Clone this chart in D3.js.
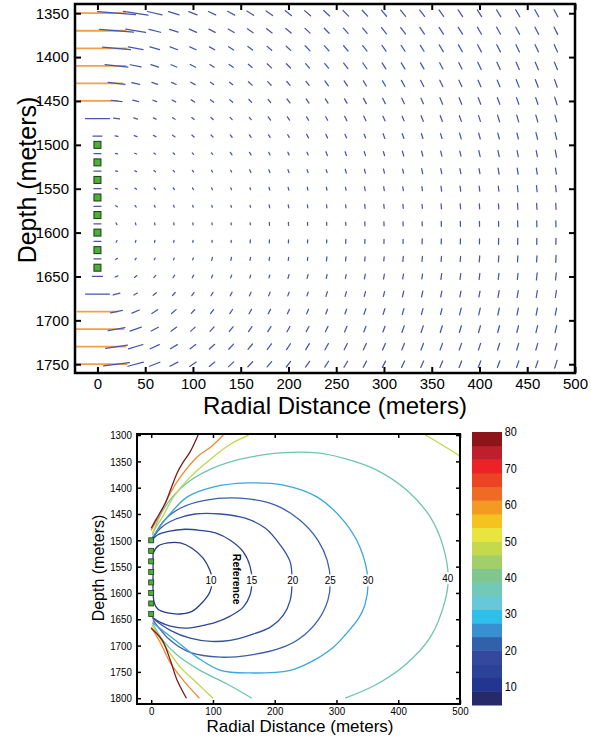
<!DOCTYPE html>
<html><head><meta charset="utf-8">
<script src="https://d3js.org/d3.v7.min.js"></script>
<style>
body{margin:0;background:#fff;}
svg{display:block;font-family:"Liberation Sans",Arial,Helvetica,sans-serif;}
</style>
</head><body>
<svg id="chart" width="591" height="738"></svg>
<script>
// ================= DATA =================
// Top panel: vector field grid
const radialCols = [0,20,40,60,80,100,120,140,160,180,200,220,240,260,280,300,320,340,360,380,400,420,440,460,480];
const depthRows = [1350,1370,1390,1410,1430,1450,1470,1490,1510,1530,1550,1570,1590,1610,1630,1650,1670,1690,1710,1730,1750];
// segment magnitudes, one row per depth, one value per radial column
const magnitudes = [
 [56,38,25,15,11,9,8,8,8,8,8,8,8,8,8,8,8,8,8,8,8,8,8,8,8],
 [56,34,20,12,9,8,7,7,7,7,7,7,7,7,7,8,8,8,8,8,8,8,8,8,8],
 [58,28,15,10,8,7,6,6,6,6,6,7,7,7,7,7,7,7,8,8,8,8,8,8,8],
 [56,23,11,8,6,6,5,5,5,6,6,6,6,7,7,7,7,7,7,7,8,8,8,8,8],
 [50,17,8,6,5,5,4,4,5,5,5,5,6,6,6,6,7,7,7,7,7,7,8,8,8],
 [40,11,6,4,4,4,4,4,4,4,5,5,5,5,6,6,6,6,7,7,7,7,7,7,8],
 [24,6,4,3,3,3,3,3,3,4,4,4,4,5,5,5,5,6,6,6,6,7,7,7,7],
 [9,3,3,3,3,3,3,3,3,3,3,4,4,4,4,5,5,5,5,6,6,6,6,7,7],
 [7,2,2,2,2,2,2,3,3,3,3,3,4,4,4,4,5,5,5,5,6,6,6,6,7],
 [7,2,2,2,2,2,2,2,3,3,3,3,3,4,4,4,4,5,5,5,5,6,6,6,6],
 [7,2,2,2,2,2,2,2,2,3,3,3,3,3,4,4,4,4,5,5,5,5,6,6,6],
 [7,2,2,2,2,2,2,2,2,3,3,3,3,3,4,4,4,4,5,5,5,5,6,6,6],
 [7,2,2,2,2,2,2,2,2,3,3,3,3,3,4,4,4,4,5,5,5,5,6,6,6],
 [7,2,2,2,2,2,2,2,3,3,3,3,3,4,4,4,4,5,5,5,5,6,6,6,6],
 [7,2,2,2,2,2,3,3,3,3,3,3,4,4,4,4,5,5,5,5,6,6,6,6,7],
 [10,3,3,3,3,3,3,3,3,3,4,4,4,4,5,5,5,5,6,6,6,6,6,7,7],
 [24,7,4,4,4,4,4,4,4,4,4,4,5,5,5,5,6,6,6,6,6,7,7,7,7],
 [40,12,8,7,6,5,5,5,5,5,5,5,5,5,6,6,6,6,6,7,7,7,7,7,7],
 [52,17,12,8,7,6,6,6,6,6,6,6,6,6,6,6,7,7,7,7,7,7,7,7,7],
 [56,22,15,10,8,7,7,7,7,7,7,7,7,7,7,7,7,7,7,7,7,7,7,7,7],
 [58,26,16,11,9,8,7,7,7,7,7,7,7,7,7,7,7,7,7,7,7,7,7,7,8]
];
const fieldCenterDepth = 1600;   // depth about which segments turn
const fieldAnisotropy = 0.9;
const largeMagnitude = 30;       // wellbore segments above this are orange
const sourceDepths = [1500,1520,1540,1560,1580,1600,1620,1640];
const topXTicks = [0,50,100,150,200,250,300,350,400,450,500];
const topYTicks = [1350,1400,1450,1500,1550,1600,1650,1700,1750];

// Bottom panel: contour lines [radial distance m, depth m]
const c10 = [[3,1524],[11,1511],[27,1505],[47,1505],[66,1515],[84,1534],[95,1557],[99,1576],[95,1598],[82,1619],[66,1635],[47,1640],[27,1638],[11,1631],[5,1619],[3,1595],[3,1557],[3,1524]];
const c15 = [[0,1502],[10,1490],[28,1483],[55,1479],[79,1481],[104,1486],[128,1500],[149,1522],[160,1549],[163,1576],[160,1604],[149,1627],[128,1644],[104,1656],[79,1663],[55,1667],[31,1663],[15,1656],[2,1646]];
const c20 = [[0,1500],[15,1477],[39,1460],[71,1450],[112,1450],[152,1458],[185,1477],[209,1509],[225,1541],[228,1576],[225,1614],[214,1642],[193,1665],[160,1680],[128,1690],[96,1692],[63,1686],[31,1671],[2,1648]];
const c25 = [[2,1500],[19,1465],[47,1439],[87,1424],[144,1420],[201,1433],[241,1462],[270,1500],[285,1538],[290,1576],[286,1614],[270,1652],[241,1686],[209,1705],[160,1718],[112,1722],[63,1713],[31,1690],[3,1652]];
const c30 = [[2,1494],[26,1456],[58,1418],[100,1399],[155,1391],[214,1395],[269,1418],[311,1462],[338,1513],[351,1576],[346,1623],[336,1648],[314,1680],[295,1703],[257,1732],[225,1747],[160,1752],[112,1747],[74,1722],[39,1690],[2,1656]];
const c40a = [[2,1490],[15,1452],[34,1418],[60,1389],[92,1367],[128,1351],[160,1342],[209,1334],[269,1334],[311,1344],[366,1367],[414,1405],[452,1456],[473,1513],[481,1572],[476,1614],[452,1684],[411,1737],[363,1775],[314,1800]];
const c40b = [[2,1657],[19,1690],[42,1718],[79,1747],[123,1773],[163,1800]];
const c50a = [[2,1486],[18,1456],[36,1418],[63,1380],[100,1342],[130,1316],[158,1300]];
const c50b = [[1,1660],[19,1695],[47,1741],[74,1771],[100,1800]];
const c50c = [[444,1300],[470,1318],[500,1340]];
const c60a = [[0,1481],[15,1448],[31,1410],[47,1380],[74,1342],[96,1323],[117,1300]];
const c60b = [[0,1665],[15,1695],[31,1733],[52,1766],[78,1800]];
const c78a = [[0,1477],[7,1462],[23,1429],[31,1405],[42,1372],[52,1351],[63,1332],[76,1300]];
const c78b = [[0,1667],[18,1690],[31,1728],[42,1766],[57,1800]];
const contourLines = [
  {level:10, pts:c10}, {level:15, pts:c15}, {level:20, pts:c20}, {level:25, pts:c25},
  {level:30, pts:c30}, {level:40, pts:c40a}, {level:40, pts:c40b},
  {level:50, pts:c50a}, {level:50, pts:c50b}, {level:50, pts:c50c},
  {level:60, pts:c60a}, {level:60, pts:c60b}, {level:78, pts:c78a}, {level:78, pts:c78b}
];
const levelColors = {10:"#283a8c",15:"#2e4599",20:"#33509f",25:"#3a60ad",30:"#3aa6de",40:"#6dc5b0",50:"#bdd74a",60:"#f08a2e",78:"#7d1a1a"};
const contourLabels = [[10,97,1576],[15,163,1576],[20,229,1576],[25,290,1576],[30,351,1576],[40,480,1572]];
const referenceLabel = {text:"Reference", r:139, d:1574};
const botXTicks = [0,100,200,300,400,500];
const botYTicks = [1300,1350,1400,1450,1500,1550,1600,1650,1700,1750,1800];
// colour bar
const cbBreaks = [5,8.75,12.5,16.25,20,23.75,27.5,31.25,35,38.75,42.5,46.25,50,53.75,57.5,61.25,65,68.75,72.5,76.25,80];
const cbColors = ["#262a6b","#223590","#2a4399","#34489d","#3360ab","#3990d0","#2ebfeb","#66c8d8","#72c9b7","#7fc78e","#a3cf6b","#c4d94c","#e8e53e","#f4c31f","#f29a22","#ef6b25","#ed4325","#ec2227","#bd1f2c","#8c1519"];
const cbTicks = [10,20,30,40,50,60,70,80];

// ================= DRAW =================
const svg = d3.select("#chart");
const fmt = d3.format("d");

// ---------- TOP PANEL ----------
const T = {l:75, r:575, t:4, b:373};
const xT = d3.scaleLinear([-23.5, 500], [T.l, T.r]);
const yT = d3.scaleLinear([1339.5, 1760], [T.t, T.b]);
const lenT = d3.scaleLinear([0, 10], [0, 10]);

svg.append("clipPath").attr("id","clipT").append("rect")
  .attr("x",T.l).attr("y",T.t).attr("width",T.r-T.l).attr("height",T.b-T.t);
const gT = svg.append("g").attr("clip-path","url(#clipT)");

const segs = [];
depthRows.forEach((d,i) => radialCols.forEach((r,j) => {
  const m = magnitudes[i][j];
  const cx = xT(r), cy = yT(d);
  const dx = cx - xT(0), dy = cy - yT(fieldCenterDepth);
  let tx = -dy, ty = fieldAnisotropy*dx;
  const n = Math.hypot(tx,ty) || 1; tx/=n; ty/=n;
  const h = lenT(m)/2;
  segs.push({x1:cx-tx*h, y1:cy-ty*h, x2:cx+tx*h, y2:cy+ty*h, big: j===0 && m>=largeMagnitude});
}));
gT.selectAll("line.or").data(segs.filter(s=>s.big)).join("line").attr("class","or")
  .attr("x1",s=>s.x1).attr("y1",s=>s.y1).attr("x2",s=>s.x2).attr("y2",s=>s.y2)
  .attr("stroke","#f4a04a").attr("stroke-width",1.8).attr("stroke-linecap","round");
gT.selectAll("line.bl").data(segs.filter(s=>!s.big)).join("line").attr("class","bl")
  .attr("x1",s=>s.x1).attr("y1",s=>s.y1).attr("x2",s=>s.x2).attr("y2",s=>s.y2)
  .attr("stroke","#4556ad").attr("stroke-width",1.25).attr("stroke-linecap","round");

gT.selectAll("rect.src").data(sourceDepths).join("rect").attr("class","src")
  .attr("x",xT(0)-3.5).attr("y",d=>yT(d)-3.5).attr("width",7).attr("height",7)
  .attr("fill","#4caf3c").attr("stroke","#1d3a14").attr("stroke-width",1);

function styleAxis(g, fs){
  g.select(".domain").remove();
  g.selectAll(".tick line").attr("stroke","#000").attr("stroke-width",2);
  g.selectAll(".tick text").attr("font-size",fs).attr("fill","#000");
}
svg.append("g").attr("transform",`translate(0,${T.b})`)
  .call(d3.axisBottom(xT).tickValues(topXTicks).tickFormat(fmt).tickSize(-6).tickPadding(5)).call(g=>styleAxis(g,"15px"));
svg.append("g").attr("transform",`translate(0,${T.t})`)
  .call(d3.axisTop(xT).tickValues(topXTicks).tickSize(-6).tickFormat("")).call(g=>styleAxis(g,"15px"));
svg.append("g").attr("transform",`translate(${T.l},0)`)
  .call(d3.axisLeft(yT).tickValues(topYTicks).tickFormat(fmt).tickSize(-6).tickPadding(6)).call(g=>styleAxis(g,"15px"));
svg.append("g").attr("transform",`translate(${T.r},0)`)
  .call(d3.axisRight(yT).tickValues(topYTicks).tickSize(-6).tickFormat("")).call(g=>styleAxis(g,"15px"));
svg.append("rect").attr("x",T.l).attr("y",T.t).attr("width",T.r-T.l).attr("height",T.b-T.t)
  .attr("fill","none").attr("stroke","#000").attr("stroke-width",2.5);
svg.append("text").attr("x",(T.l+T.r)/2+10).attr("y",414).attr("text-anchor","middle")
  .attr("font-size","24px").text("Radial Distance (meters)");
svg.append("text").attr("transform",`translate(36,180) rotate(-90)`).attr("text-anchor","middle")
  .attr("font-size","25px").text("Depth (meters)");

// ---------- BOTTOM PANEL ----------
const B = {l:137, r:460, t:434, b:704};
const xB = d3.scaleLinear([-23, 500], [B.l, B.r]);
const yB = d3.scaleLinear([1298, 1811], [B.t, B.b]);
svg.append("clipPath").attr("id","clipB").append("rect")
  .attr("x",B.l).attr("y",B.t).attr("width",B.r-B.l).attr("height",B.b-B.t);
const gB = svg.append("g").attr("clip-path","url(#clipB)");
const line = d3.line().x(d=>xB(d[0])).y(d=>yB(d[1])).curve(d3.curveCatmullRom.alpha(0.5));
gB.selectAll("path.ct").data(contourLines).join("path").attr("class","ct")
  .attr("d",d=>line(d.pts)).attr("fill","none")
  .attr("stroke",d=>levelColors[d.level]).attr("stroke-width",1.3);

const lab = gB.selectAll("g.cl").data(contourLabels).join("g").attr("class","cl")
  .attr("transform",d=>`translate(${xB(d[1])},${yB(d[2])})`);
lab.append("rect").attr("x",-8).attr("y",-6).attr("width",16).attr("height",12).attr("fill","#fff");
lab.append("text").attr("text-anchor","middle").attr("dy","0.35em").attr("font-size","11px")
  .attr("transform","scale(0.9,1)").text(d=>d[0]);
gB.append("text").attr("transform",`translate(${xB(referenceLabel.r)},${yB(referenceLabel.d)}) rotate(90)`)
  .attr("text-anchor","middle").attr("dy","0.35em").attr("font-size","10.5px").attr("font-weight","bold")
  .text(referenceLabel.text);

gB.selectAll("rect.src").data(sourceDepths).join("rect").attr("class","src")
  .attr("x",xB(0)-2.5).attr("y",d=>yB(d)-2.5).attr("width",5).attr("height",5)
  .attr("fill","#4caf3c").attr("stroke","#1d3a14").attr("stroke-width",0.8);

function styleAxisB(g){
  g.select(".domain").remove();
  g.selectAll(".tick line").attr("stroke","#000").attr("stroke-width",1.5);
  g.selectAll(".tick text").attr("font-size","11.5px").attr("fill","#000");
}
svg.append("g").attr("transform",`translate(0,${B.b})`)
  .call(d3.axisBottom(xB).tickValues(botXTicks).tickFormat(fmt).tickSize(-4).tickPadding(3)).call(styleAxisB)
  .selectAll(".tick text").attr("transform","scale(0.85,1)");
svg.append("g").attr("transform",`translate(0,${B.t})`)
  .call(d3.axisTop(xB).tickValues(botXTicks).tickSize(-4).tickFormat("")).call(styleAxisB);
svg.append("g").attr("transform",`translate(${B.l},0)`)
  .call(d3.axisLeft(yB).tickValues(botYTicks).tickFormat(fmt).tickSize(-4).tickPadding(6)).call(styleAxisB)
  .selectAll(".tick text").attr("transform","scale(0.85,1)");
svg.append("g").attr("transform",`translate(${B.r},0)`)
  .call(d3.axisRight(yB).tickValues(botYTicks).tickSize(-4).tickFormat("")).call(styleAxisB);
svg.append("rect").attr("x",B.l).attr("y",B.t).attr("width",B.r-B.l).attr("height",B.b-B.t)
  .attr("fill","none").attr("stroke","#000").attr("stroke-width",2);
svg.append("text").attr("x",300).attr("y",732).attr("text-anchor","middle")
  .attr("font-size","17px").text("Radial Distance (meters)");
svg.append("text").attr("transform",`translate(104,568) rotate(-90)`).attr("text-anchor","middle")
  .attr("font-size","16px").text("Depth (meters)");

// ---------- COLOUR BAR ----------
const yC = d3.scaleLinear([5,80],[705,432]);
const cbX = 472, cbW = 30;
svg.selectAll("rect.cb").data(cbColors).join("rect").attr("class","cb")
  .attr("x",cbX).attr("width",cbW)
  .attr("y",(c,i)=>yC(cbBreaks[i+1])).attr("height",(c,i)=>yC(cbBreaks[i])-yC(cbBreaks[i+1])+0.5)
  .attr("fill",c=>c);
svg.append("g").attr("transform",`translate(${cbX+cbW},0)`)
  .call(d3.axisRight(yC).tickValues(cbTicks).tickSize(0).tickPadding(3))
  .call(g=>{g.select(".domain").remove();
    g.selectAll(".tick text").attr("font-size","12px").attr("fill","#000").attr("transform","scale(0.9,1)");});
</script>
</body></html>
